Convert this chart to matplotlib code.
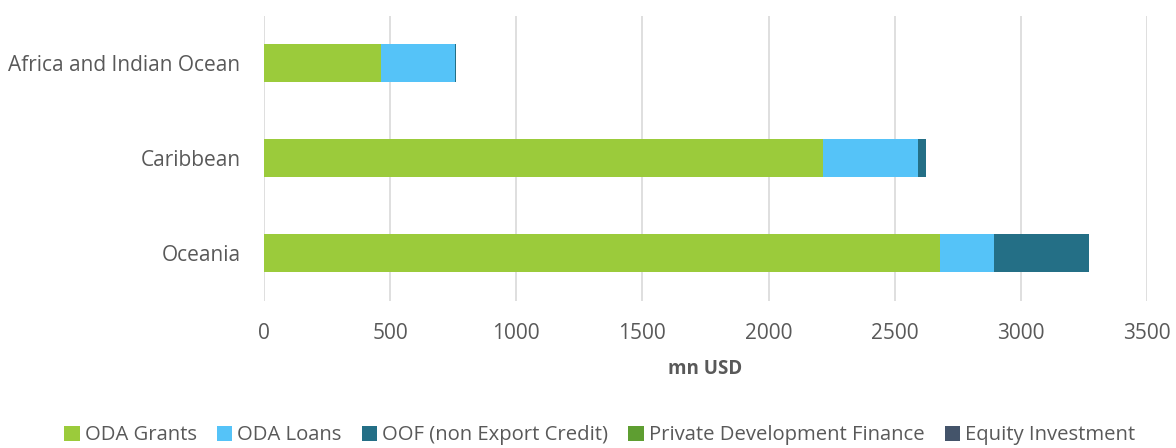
import numpy as np
import matplotlib.pyplot as plt

plt.rcParams['font.family'] = ['Open Sans', 'DejaVu Sans']

regions = ["Oceania", "Caribbean", "Africa and Indian Ocean"]
series = ["ODA Grants", "ODA Loans", "OOF (non Export Credit)",
          "Private Development Finance", "Equity Investment"]
oda_grants = [2679, 2216, 464]
oda_loans = [214, 376, 293]
oof = [377, 31, 4]
private_dev = [0, 3, 0]
equity = [0, 0, 0]
values = [oda_grants, oda_loans, oof, private_dev, equity]
colors = ["#9BCB3B", "#55C3F8", "#246F86", "#5E9E31", "#44546A"]

grey = "#595959"
fig = plt.figure(figsize=(11.76, 4.48), dpi=100)
ax = fig.add_axes([0.2245, 0.3282, 0.7508, 0.6361])

y = np.arange(len(regions))
left = np.zeros(len(regions))
for name, vals, c in zip(series, values, colors):
    ax.barh(y, vals, left=left, height=0.4, color=c, label=name, zorder=3)
    left += np.array(vals)

ax.set_ylim(-0.5, 2.5)
ax.set_xlim(0, 3500)
ax.set_xticks(np.arange(0, 3501, 500))
ax.set_yticks(y)
ax.set_yticklabels(regions)
ax.grid(axis='x', color="#D9D9D9", linewidth=1.2, zorder=0)
for s in ax.spines.values():
    s.set_visible(False)
ax.tick_params(length=0, labelsize=15, colors=grey)
ax.tick_params(axis='x', pad=16)
ax.tick_params(axis='y', pad=17)
ax.set_xlabel("mn USD", fontsize=13.5, fontweight='bold', color=grey, labelpad=11)

handles, labels = ax.get_legend_handles_labels()
leg = fig.legend(handles, labels, loc='lower center', bbox_to_anchor=(0.51, -0.035),
                 ncol=5, frameon=False, fontsize=14.6, handlelength=0.75, handleheight=0.75,
                 handletextpad=0.25, columnspacing=1.0, labelcolor=grey)

fig.savefig("out.png", dpi=100)
